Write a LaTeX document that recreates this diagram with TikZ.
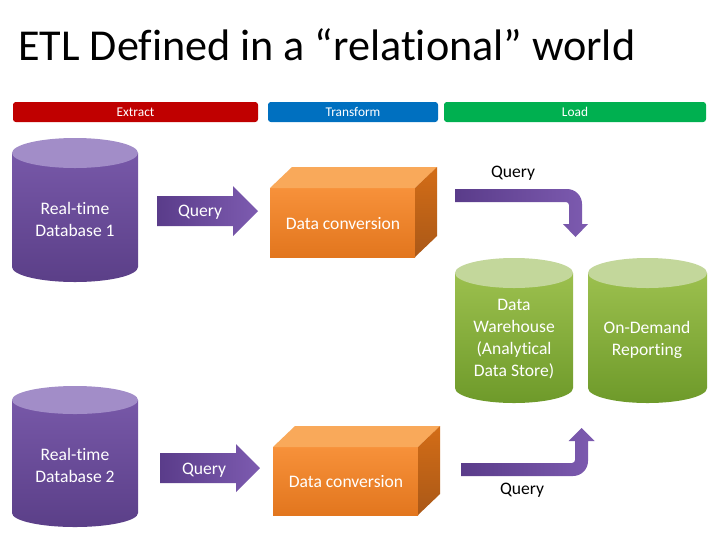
\documentclass[tikz,border=0pt]{standalone}
\usepackage{fontspec}
\setmainfont[Ligatures={NoCommon}]{Carlito}
\definecolor{exred}{HTML}{C00000}
\definecolor{trblue}{HTML}{0070C0}
\definecolor{ldgreen}{HTML}{00B050}
\definecolor{purtop}{HTML}{A28DC8}
\definecolor{purhi}{HTML}{7758A8}
\definecolor{purlo}{HTML}{5B3F88}
\definecolor{grtop}{HTML}{C3D79B}
\definecolor{grhi}{HTML}{9CC04E}
\definecolor{grlo}{HTML}{6E9A2A}
\definecolor{orfront}{HTML}{F7913A}
\definecolor{orfrontlo}{HTML}{E2761E}
\definecolor{ortop}{HTML}{F9A95A}
\definecolor{orside}{HTML}{C8681C}
\definecolor{arrL}{HTML}{5A3C8A}
\definecolor{arrR}{HTML}{7D5BB0}
\newcommand{\mycyl}[8]{%
  \pgfmathsetmacro\rx{(#2-#1)/2*0.025}%
  \pgfmathsetmacro\ry{#5*0.025}%
  \shade[top color=#7,bottom color=#8] (#1,#3) -- (#1,#4) arc[start angle=180,end angle=360,x radius=\rx cm,y radius=\ry cm] -- (#2,#3) -- cycle;
  \fill[#6] ({(#1+#2)/2},#3) ellipse[x radius=\rx cm, y radius=\ry cm];
}
\newcommand{\mybox}[6]{% x1 y1 x2 y2 dx dy
  \shade[top color=orfront,bottom color=orfrontlo] (#1,#2) rectangle (#3,#4);
  \fill[ortop] (#1,#2) -- ({#1+#5},{#2-#6}) -- ({#3+#5},{#2-#6}) -- (#3,#2) -- cycle;
  \shade[top color=orside!80!orange,bottom color=orside!85!black] (#3,#2) -- ({#3+#5},{#2-#6}) -- ({#3+#5},{#4-#6}) -- (#3,#4) -- cycle;
}
\tikzset{
  bar/.style={rounded corners=2pt},
  barlabel/.style={text=white,font=\fontsize{9.5}{11}\selectfont},
  wtext/.style={text=white,align=center,font=\fontsize{12.5}{15.6}\selectfont},
  btext/.style={text=black,align=center,font=\fontsize{12.5}{15.6}\selectfont},
  blockarrow/.style={left color=arrL,right color=arrR}
}
\begin{document}
\begin{tikzpicture}[x=0.025cm,y=-0.025cm]
\useasboundingbox (0,0) rectangle (720,540);
\fill[white] (0,0) rectangle (720,540);
% title
\node[anchor=base west,inner sep=0pt,font=\fontsize{31.4}{36}\selectfont] (title) at (18,60) {ETL Defined in a “relational” world};
% bars
\fill[bar,exred] (13,102) rectangle (258,122);
\fill[bar,trblue] (268,102) rectangle (438,122);
\fill[bar,ldgreen] (444,102) rectangle (706,122);
\node[barlabel] (ex) at (135.5,112) {Extract};
\node[barlabel] (tr) at (353,112) {Transform};
\node[barlabel] (ld) at (575,112) {Load};
% purple cylinders
\mycyl{12}{138}{153}{267}{15}{purtop}{purhi}{purlo}
\node[wtext] (db1) at (75,219) {Real-time\\Database 1};
\mycyl{12}{138}{400}{513}{14}{purtop}{purhi}{purlo}
\node[wtext] (db2) at (75,465) {Real-time\\Database 2};
% straight arrows
\shade[blockarrow] (157,196) -- (233,196) -- (233,186) -- (258,211) -- (233,236) -- (233,226) -- (157,226) -- cycle;
\node[wtext] (q1) at (200,212) {Query};
\shade[blockarrow] (160,453) -- (236,453) -- (236,444) -- (260,468) -- (236,492) -- (236,483) -- (160,483) -- cycle;
\node[wtext] (q2) at (204,470) {Query};
% boxes
\mybox{270}{188}{415}{257}{22}{21}
\node[wtext] (dc1) at (343,224) {Data conversion};
\mybox{273}{447}{418}{515}{22}{21}
\node[wtext] (dc2) at (346,482) {Data conversion};
% green cylinders
\mycyl{455}{573}{273}{388}{15}{grtop}{grhi}{grlo}
\node[wtext] (dw) at (514,339) {Data\\Warehouse\\(Analytical\\Data Store)};
\mycyl{588}{707}{273}{388}{15}{grtop}{grhi}{grlo}
\node[wtext] (odr) at (647,340) {On-Demand\\Reporting};
% bent arrows
\shade[blockarrow] (455,189) -- (567,189) arc[start angle=90,end angle=0,radius=0.375cm] -- (582,224) -- (588,224) -- (575.5,237) -- (563,224) -- (569,224) -- (569,205) arc[start angle=0,end angle=90,radius=0.075cm] -- (455,202) -- cycle;
\node[btext] (q3) at (513,173) {Query};
\shade[blockarrow] (461,476) -- (573,476) arc[start angle=270,end angle=360,radius=0.375cm] -- (588,441) -- (594.5,441) -- (581.5,428) -- (568.5,441) -- (575,441) -- (575,460) arc[start angle=0,end angle=-90,radius=0.075cm] -- (461,463) -- cycle;
\node[btext] (q4) at (522,490) {Query};
\end{tikzpicture}
\end{document}
